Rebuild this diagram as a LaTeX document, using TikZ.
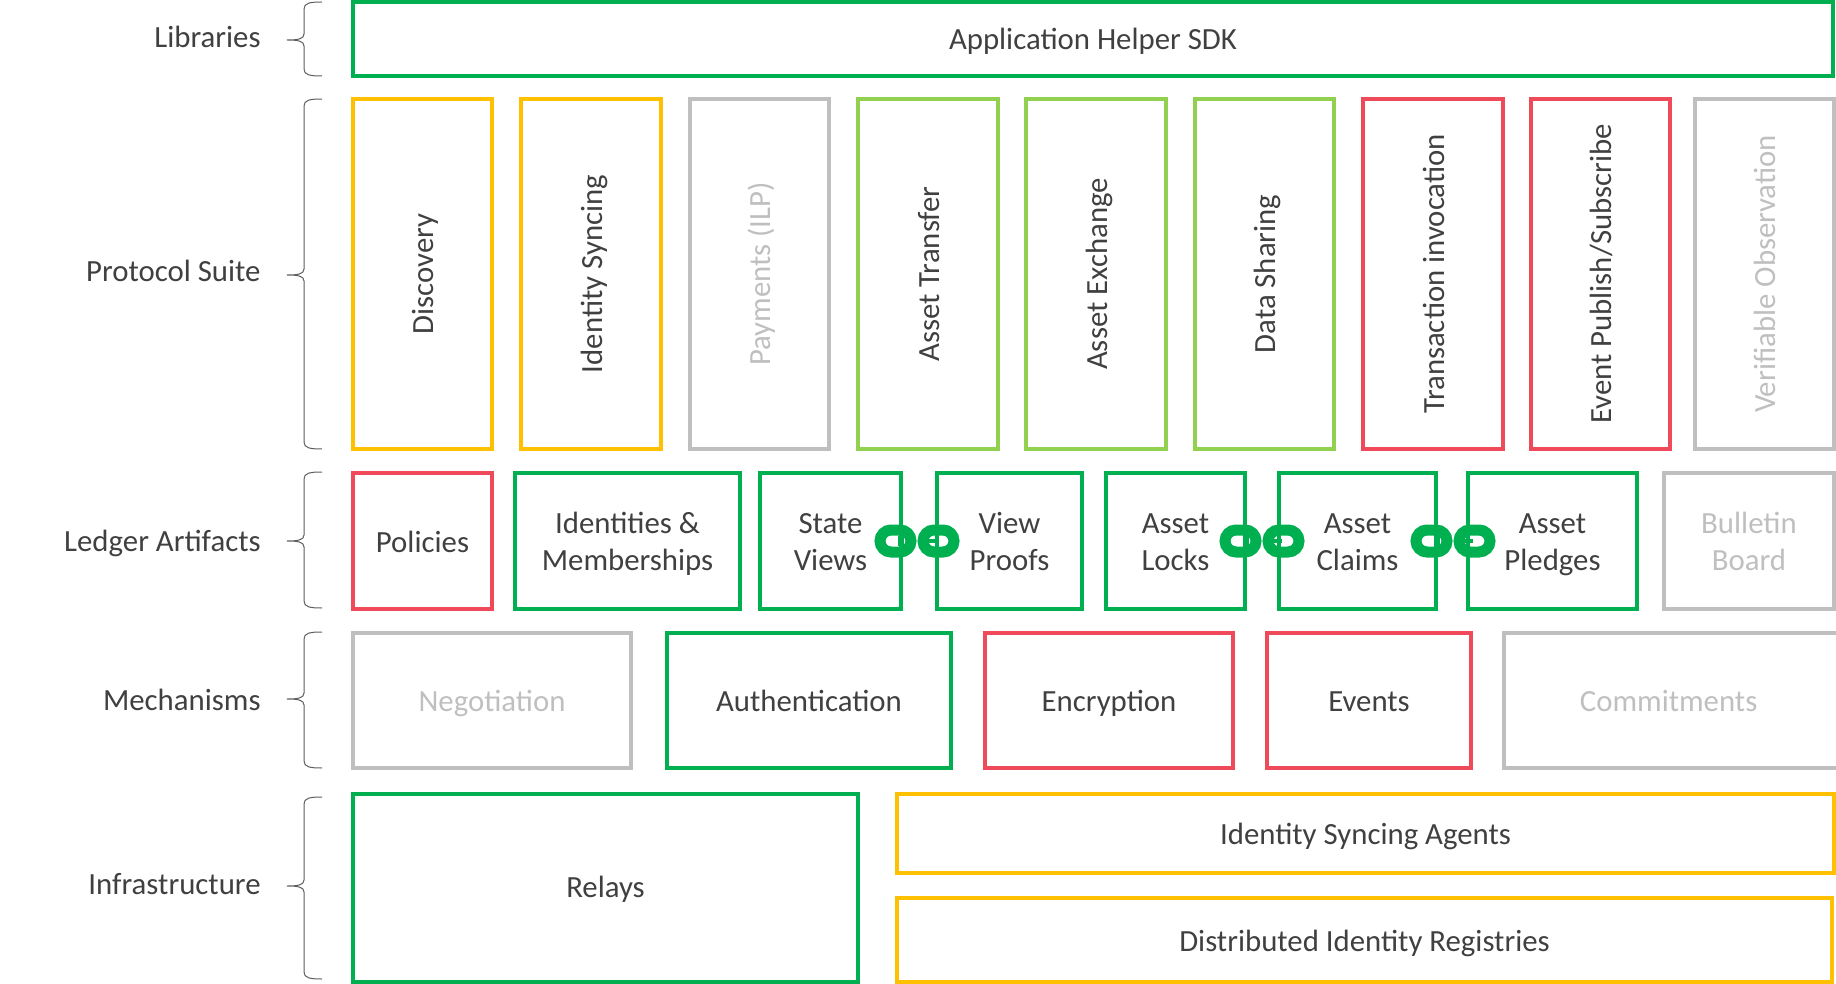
\documentclass[tikz,border=0pt]{standalone}
\usepackage{fontspec}
\setmainfont{Carlito}
\definecolor{cgreen}{HTML}{00B050}
\definecolor{cyellow}{HTML}{FFC000}
\definecolor{clime}{HTML}{92D050}
\definecolor{cred}{HTML}{EE4A5A}
\definecolor{cgray}{HTML}{BFBFBF}
\definecolor{ctext}{HTML}{404040}
\tikzset{
  x=0.5pt,y=-0.5pt,
  boxnode/.style={draw,line width=2pt,inner sep=0pt,outer sep=0pt,align=center,text=ctext,
    font=\fontsize{15.4}{18.7}\selectfont},
  rowlabel/.style={anchor=east,text=ctext,inner sep=0pt,font=\fontsize{15.4}{18.7}\selectfont},
  bracepath/.style={draw=ctext!85,line width=0.5pt},
  chainlink/.style={draw=cgreen,line width=5.5pt,rounded corners=5.5pt},
}
\newcommand\st{\rule[-3.85pt]{0pt}{18.7pt}}
\newcommand\sth{\rule[-4.85pt]{0pt}{18.7pt}}
% name, x1, y1, x2, y2, colour, text
\newcommand\bx[7]{\node[boxnode,draw=#6,minimum width={(#4-#2)*0.5pt},minimum height={(#5-#3)*0.5pt}]
  (#1) at ({(#2+#4)/2},{(#3+#5)/2}) {#7};}
\newcommand\vtxt[1]{\rotatebox{90}{#1\st}}
% top y, mid y, bottom y
\newcommand\brc[3]{\draw[bracepath] (322,#1) .. controls (310,#1) and (304,#1+1) .. (304,#1+7)
  -- (304,#2-6) .. controls (304,#2-1) and (298,#2) .. (287,#2)
  .. controls (298,#2) and (304,#2+1) .. (304,#2+6)
  -- (304,#3-7) .. controls (304,#3-1) and (310,#3) .. (322,#3);}
\newcommand\chain[2]{%
  \draw[chainlink] (#1-37,#2-11) rectangle (#1-6,#2+11);
  \draw[chainlink] (#1+6,#2-11) rectangle (#1+37,#2+11);
  \fill[cgreen] (#1-19,#2-5) rectangle (#1-13,#2+5);
  \fill[cgreen] (#1+11,#2-2) rectangle (#1+20,#2+2);}
\begin{document}
\begin{tikzpicture}
\useasboundingbox (0,0) rectangle (1836,984);
\node[rowlabel] (lLib) at (261,37) {Libraries\st};
\node[rowlabel] (lPro) at (261,273) {Protocol Suite\sth};
\node[rowlabel] (lLed) at (261,540) {Ledger Artifacts\st};
\node[rowlabel] (lMec) at (261,699) {Mechanisms\st};
\node[rowlabel] (lInf) at (261,885) {Infrastructure\sth};
\brc{2}{40}{76}
\brc{99}{275}{449}
\brc{472}{541}{608}
\brc{632}{699}{768}
\brc{797}{886}{979}

\bx{sdk}{353}{2}{1833}{76}{cgreen}{Application Helper SDK\st}

\bx{disc}{353}{99}{492}{449}{cyellow}{\vtxt{Discovery}}
\bx{idsync}{521}{99}{661}{449}{cyellow}{\vtxt{Identity Syncing}}
\bx{pay}{690}{99}{829}{449}{cgray}{\vtxt{\color{cgray}Payments (ILP)}}
\bx{atrans}{858}{99}{998}{449}{clime}{\vtxt{Asset Transfer}}
\bx{aexch}{1026}{99}{1166}{449}{clime}{\vtxt{Asset Exchange}}
\bx{dshare}{1195}{99}{1334}{449}{clime}{\vtxt{Data Sharing}}
\bx{txinv}{1363}{99}{1503}{449}{cred}{\vtxt{Transaction invocation}}
\bx{evpub}{1531}{99}{1670}{449}{cred}{\vtxt{Event Publish/Subscribe}}
\bx{verif}{1695}{99}{1834}{449}{cgray}{\vtxt{\color{cgray}Verifiable Observation}}

\bx{policies}{353}{473}{492}{609}{cred}{Policies\st}
\bx{idents}{515}{473}{740}{609}{cgreen}{Identities \&\st\\Memberships\st}
\bx{sviews}{760}{473}{901}{609}{cgreen}{State\st\\Views\st}
\bx{vproofs}{937}{473}{1082}{609}{cgreen}{View\st\\Proofs\st}
\bx{alocks}{1106}{473}{1245}{609}{cgreen}{Asset\st\\Locks\st}
\bx{aclaims}{1279}{473}{1436}{609}{cgreen}{Asset\st\\Claims\st}
\bx{apledges}{1468}{473}{1637}{609}{cgreen}{Asset\st\\Pledges\st}
\bx{bboard}{1664}{473}{1834}{609}{cgray}{\color{cgray}Bulletin\st\\\color{cgray}Board\st}

\bx{nego}{353}{633}{631}{768}{cgray}{\color{cgray}Negotiation\st}
\bx{auth}{667}{633}{951}{768}{cgreen}{Authentication\st}
\bx{encr}{985}{633}{1233}{768}{cred}{Encryption\st}
\bx{events}{1267}{633}{1471}{768}{cred}{Events\st}
\bx{commit}{1504}{633}{1844}{768}{cgray}{\color{cgray}\hspace*{-5.4pt}Commitments\st}

\bx{relays}{353}{794}{858}{982}{cgreen}{Relays\sth}
\bx{agents}{897}{794}{1834}{873}{cyellow}{Identity Syncing Agents\st}
\bx{regs}{897}{898}{1832}{982}{cyellow}{Distributed Identity Registries\st}

\chain{917}{541}
\chain{1262}{541}
\chain{1453}{541}
\end{tikzpicture}
\end{document}
